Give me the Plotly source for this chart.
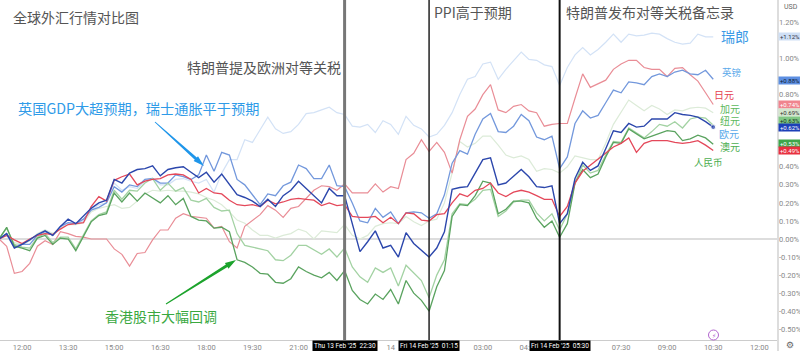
import plotly.graph_objects as go
import pandas as pd

W, H = 800, 351
ML, MR, MT, MB = 0, 22, 0, 11
PW, PH = W - ML - MR, H - MT - MB

times = pd.date_range("2025-02-13 11:15", periods=94, freq="15min")

eur = [0,.03,-.05,-.03,-.005,.025,.045,.02,.07,.11,
       .085,.13,.17,.2,.215,.33,.31,.365,.385,.39,
       .405,.35,.385,.395,.40,.37,.34,.37,.315,.36,
       .30,.245,.23,.21,.18,.22,.18,.24,.27,.32,
       .28,.24,.20,.28,.24,.24,.08,-.07,-.015,.045,
       -.05,-.035,-.10,.035,-.025,-.06,-.10,-.05,.04,.275,
       .285,.29,.365,.44,.45,.30,.31,.345,.385,.345,
       .29,.285,.295,.085,.14,.335,.425,.38,.405,.50,
       .60,.59,.64,.62,.625,.665,.665,.665,.70,.69,
       .685,.675,.65,.62]
cny = [0,.02,-.005,-.025,0,.02,.03,.025,.055,.08,
       .085,.09,.18,.235,.21,.325,.345,.36,.30,.32,
       .33,.335,.355,.36,.355,.33,.255,.28,.255,.25,
       .215,.19,.185,.19,.18,.215,.195,.205,.22,.225,
       .22,.215,.185,.20,.185,.19,.125,.12,.12,.125,
       .09,.12,.085,.145,.14,.105,.10,.135,.14,.20,
       .25,.235,.27,.28,.31,.255,.235,.26,.27,.26,
       .24,.22,.22,.125,.18,.31,.375,.41,.44,.475,
       .51,.53,.56,.48,.53,.545,.545,.545,.535,.53,
       .535,.545,.52,.49]
aud = [0,.065,-.04,-.05,-.065,.005,.02,-.03,.005,0,
       -.065,.015,.095,.13,.14,.255,.205,.255,.21,.255,
       .225,.20,.24,.19,.225,.125,.105,.10,.06,.065,
       .04,-.115,-.13,-.155,-.19,-.195,-.24,-.245,-.22,-.155,
       -.18,-.20,-.215,-.185,-.23,-.175,-.285,-.335,-.36,-.305,
       -.335,-.28,-.36,-.23,-.30,-.34,-.40,-.265,-.175,.125,
       .19,.185,.24,.32,.31,.14,.165,.21,.21,.20,
       .115,.065,.10,.01,.085,.31,.385,.34,.36,.455,
       .535,.53,.61,.58,.555,.57,.585,.60,.595,.545,
       .555,.575,.56,.525]
nzd = [0,.06,-.03,-.045,-.05,.01,.03,-.02,.01,.01,
       -.055,.02,.10,.135,.15,.27,.22,.27,.265,.31,
       .335,.27,.31,.265,.285,.215,.205,.225,.175,.155,
       .16,.03,-.035,-.045,-.055,-.065,-.115,-.12,-.09,-.035,
       -.035,-.06,-.085,-.055,-.10,-.05,-.155,-.21,-.24,-.16,
       -.185,-.16,-.26,-.145,-.19,-.23,-.325,-.20,-.115,.14,
       .195,.19,.22,.27,.275,.125,.155,.205,.215,.215,
       .145,.10,.14,.05,.14,.31,.41,.365,.38,.465,
       .54,.535,.615,.585,.56,.595,.635,.625,.65,.615,
       .665,.675,.67,.63]
cad = [0,.03,-.02,-.03,-.01,.03,.05,.03,.06,.08,
       .08,.09,.15,.17,.18,.19,.17,.175,.21,.25,
       .27,.265,.27,.265,.265,.26,.25,.23,.215,.19,
       .15,.105,.087,.05,.02,.02,.005,.02,.03,.055,
       .04,0,.045,.04,.035,.08,.02,0,.02,.07,
       .085,.09,.085,.125,.095,.075,.10,.11,.20,.365,
       .54,.51,.53,.57,.57,.52,.465,.45,.46,.44,
       .375,.39,.385,.365,.40,.46,.45,.44,.44,.53,
       .635,.70,.77,.74,.71,.74,.72,.69,.715,.71,
       .725,.73,.725,.70]
gbp = [0,.03,-.04,-.03,-.03,.02,.04,.02,.07,.09,
       .085,.11,.16,.175,.2,.29,.26,.30,.29,.33,
       .335,.31,.31,.355,.345,.33,.355,.465,.375,.48,
       .465,.33,.30,.245,.19,.25,.24,.295,.315,.41,
       .39,.335,.335,.41,.295,.29,.20,.10,.09,.17,
       .12,.15,.085,.145,.15,.145,.115,.14,.245,.42,
       .49,.47,.58,.665,.695,.595,.59,.625,.69,.655,
       .565,.55,.57,.39,.455,.64,.71,.67,.685,.755,
       .825,.81,.87,.865,.855,.90,.915,.90,.925,.935,
       .915,.91,.935,.885]
jpy = [0,-.04,-.19,-.18,-.135,-.04,-.01,-.03,.04,.03,
       .015,.01,0,0,0,-.055,-.085,-.15,-.08,-.075,
       -.005,.05,.05,.115,.14,.125,.12,.115,.06,.07,
       -.015,-.05,.07,.105,.135,.185,.16,.12,.17,.18,
       .225,.27,.295,.29,.27,.305,.255,.255,.255,.305,
       .26,.29,.28,.44,.475,.55,.485,.535,.48,.365,
       .55,.68,.72,.80,.855,.715,.70,.735,.745,.71,
       .70,.625,.635,.64,.64,.78,.915,.84,.86,.88,
       .94,.97,.99,.99,.95,.94,.94,.90,.945,.95,
       .91,.875,.81,.745]
chf = [0,.02,-.05,-.03,-.01,.02,.05,.03,.06,.09,
       .085,.10,.16,.19,.20,.31,.27,.29,.28,.32,
       .335,.30,.30,.33,.335,.32,.31,.33,.26,.365,
       .44,.44,.55,.535,.605,.675,.61,.585,.595,.635,
       .695,.70,.715,.73,.70,.69,.625,.62,.635,.59,
       .655,.635,.58,.68,.63,.61,.565,.58,.63,.70,
       .80,.885,.90,.97,.98,.885,.94,.99,1.035,.995,
       .99,.965,.955,.85,.95,1.02,1.06,1.02,1.05,1.09,
       1.135,1.09,1.135,1.125,1.13,1.14,1.135,1.11,1.09,1.08,
       1.085,1.135,1.12,1.12]

series = [
    ("瑞郎", chf, "#d3e2f6", 1.2),
    ("加元", cad, "#dcebd8", 1.2),
    ("日元", jpy, "#e98d96", 1.2),
    ("英镑", gbp, "#7398dc", 1.3),
    ("纽元", nzd, "#a3d2a3", 1.3),
    ("澳元", aud, "#5aa35f", 1.3),
    ("人民币", cny, "#e4485a", 1.3),
    ("欧元", eur, "#2c47ac", 1.4),
]

event_times = ["2025-02-13 22:30", "2025-02-14 01:15", "2025-02-14 05:30"]
event_styles = [("#777777", 3), ("#222222", 1.5), ("#111111", 2)]
event_tags = ["Thu 13 Feb '25&nbsp;&nbsp;22:30", "Fri 14 Feb '25&nbsp;&nbsp;01:15", "Fri 14 Feb '25&nbsp;&nbsp;05:30"]

tick_times = ["2025-02-13 12:00", "2025-02-13 13:30", "2025-02-13 15:00", "2025-02-13 16:30",
              "2025-02-13 18:00", "2025-02-13 19:30", "2025-02-13 21:00", "2025-02-14 00:00",
              "2025-02-14 03:00", "2025-02-14 04:30", "2025-02-14 07:30", "2025-02-14 09:00",
              "2025-02-14 10:30", "2025-02-14 12:00"]
tick_text = ["12:00", "13:30", "15:00", "16:30", "18:00", "19:30", "21:00", "14",
             "03:00", "04:30", "07:30", "09:00", "10:30", "12:00"]
y_ticks = [-.5, -.4, -.3, -.2, -.1, 0, .1, .2, .3, .4, .8, 1.0, 1.2]

tag_name = ["chf", "gbp", "jpy", "cad", "nzd", "eur", "aud", "cny"]
tag_vals = [1.12, 0.88, 0.74, 0.69, 0.63, 0.62, 0.53, 0.49]
tag_shift = [0, 0, 1, 1.5, 5, 0, 0, 0]
tag_bg = ["#cfdff5", "#5d8fe2", "#f0848e", "#d4e6cf", "#80c784", "#1c3fb8", "#3ea64a", "#e8303f"]
tag_fg = ["#334", "#123", "#fff", "#333", "#132", "#fff", "#fff", "#fff"]

CJK = "Noto Sans CJK SC"


def px(x):
    return (x - ML) / PW


def py(y):
    return 1 - (y - MT) / PH


fig = go.Figure()
for name, vals, col, lw in series:
    assert len(vals) == 94, name
    sizes = [0] * 93 + [5 if name == "欧元" else 0]
    fig.add_trace(go.Scatter(x=times, y=vals, mode="lines+markers", name=name,
                             line=dict(color=col, width=lw), marker=dict(size=sizes, color=col),
                             hoverinfo="skip", showlegend=False))

shapes = []
for t, (c, w) in zip(event_times, event_styles):
    shapes.append(dict(type="line", xref="x", yref="paper", x0=t, x1=t, y0=0, y1=1,
                       line=dict(color=c, width=w), layer="above"))
shapes.append(dict(type="line", xref="paper", yref="paper", x0=1, x1=1, y0=-MB / PH, y1=1,
                   line=dict(color="#dddddd", width=2)))


def wedge(x0, y0, x1, y1, col, tail=0.5, neck=3.0, barb=5.5, head=11):
    import math
    L = math.hypot(x1 - x0, y1 - y0)
    ux, uy = (x1 - x0) / L, (y1 - y0) / L
    nx, ny = -uy, ux
    bx, by = x1 - ux * head, y1 - uy * head
    pts = [(x0 + nx * tail, y0 + ny * tail), (bx + nx * neck * .5, by + ny * neck * .5),
           (bx + nx * barb * .6, by + ny * barb * .6), (x1, y1),
           (bx - nx * barb * .6, by - ny * barb * .6), (bx - nx * neck * .5, by - ny * neck * .5),
           (x0 - nx * tail, y0 - ny * tail)]
    d = "M " + " L ".join(f"{px(a):.5f},{py(b):.5f}" for a, b in pts) + " Z"
    return dict(type="path", xref="paper", yref="paper", path=d, fillcolor=col,
                line=dict(color=col, width=0), layer="above")


shapes.append(wedge(155, 122, 204, 166, "#1f96ea"))
shapes.append(wedge(166, 304, 236, 260, "#1ca32c"))
shapes.append(dict(type="circle", xref="paper", yref="paper", x0=px(708.5), x1=px(718.5),
                   y0=py(340), y1=py(330), line=dict(color="#b265cf", width=1), fillcolor="#ffffff",
                   layer="above"))

ann = []


def text(x, y, s, size, col, anchor="left", font=CJK):
    ann.append(dict(xref="paper", yref="paper", x=px(x - 2), y=py(y), text=s, showarrow=False,
                    xanchor=anchor, yanchor="middle", font=dict(family=font, size=size, color=col)))


text(13, 17, "全球外汇行情对比图", 14, "#555555")
text(187, 67, "特朗普提及欧洲对等关税", 14, "#555555")
text(434, 12, "PPI高于预期", 14, "#555555")
text(566, 12, "特朗普发布对等关税备忘录", 14, "#555555")
text(18, 108, "英国GDP大超预期，瑞士通胀平于预期", 14.2, "#2f9be8")
text(105, 316, "香港股市大幅回调", 14, "#3aa83f")
text(721, 36, "瑞郎", 14, "#3c9ae6")
text(722, 72, "英镑", 9.5, "#5aa9ea")
text(714, 94, "日元", 10, "#e5404f")
text(720, 108, "加元", 10, "#5cb85c")
text(720, 120, "纽元", 10, "#5cb85c")
text(719, 134, "欧元", 10, "#5aa9ea")
text(720, 146, "澳元", 10, "#4cae50")
text(694, 162, "人民币", 9.5, "#4cae50")
text(715.5, 335, "⚡", 6, "#b265cf", "center", "DejaVu Sans")
text(784, 7, "USD", 7, "#666666", "left", "Roboto")
text(792, 345, "⚙", 9, "#666666", "center", "DejaVu Sans")

for t, s in zip(event_times, event_tags):
    ann.append(dict(xref="x", yref="paper", x=t, y=py(346), text=s, showarrow=False, xanchor="center",
                    yanchor="middle", bgcolor="#000000", borderpad=1,
                    font=dict(family="Roboto", size=6.5, color="#ffffff")))

for n, v, s, bg, fg in zip(tag_name, tag_vals, tag_shift, tag_bg, tag_fg):
    ann.append(dict(xref="paper", yref="y", x=1, y=v, yshift=s, text=f"+{v:.2f}%", showarrow=False,
                    xanchor="left", yanchor="middle", bgcolor=bg, borderpad=0, width=22, height=7,
                    align="center", font=dict(family="Roboto", size=6, color=fg)))

x0 = times[0] + (times[1] - times[0]) * ((0 + 1) / 7.68)
x1 = times[0] + (times[1] - times[0]) * ((778 + 1) / 7.68)
fig.update_layout(
    width=W, height=H, margin=dict(l=ML, r=MR, t=MT, b=MB, autoexpand=False),
    paper_bgcolor="#ffffff", plot_bgcolor="#ffffff", showlegend=False,
    shapes=shapes, annotations=ann,
    xaxis=dict(range=[x0, x1], type="date", tickmode="array", tickvals=tick_times, ticktext=tick_text,
               showgrid=False, zeroline=False, showline=True, linecolor="#cccccc", linewidth=1,
               ticks="", ticklabelstandoff=0,
               tickfont=dict(family="Roboto", size=7.5, color="#888888")),
    yaxis=dict(range=[(239 - 340) / 180.5, 239 / 180.5], side="right", tickmode="array", tickvals=y_ticks,
               ticktext=[f"{v:.2f}%" for v in y_ticks], showgrid=False, showline=False,
               zeroline=True, zerolinecolor="#dddddd", zerolinewidth=1.5, ticks="",
               tickfont=dict(family="Roboto", size=7.5, color="#888888")),
)
fig.write_html("out.html", config=dict(displayModeBar=False),
               post_script="document.body.style.margin='0';document.body.style.overflow='hidden';")
